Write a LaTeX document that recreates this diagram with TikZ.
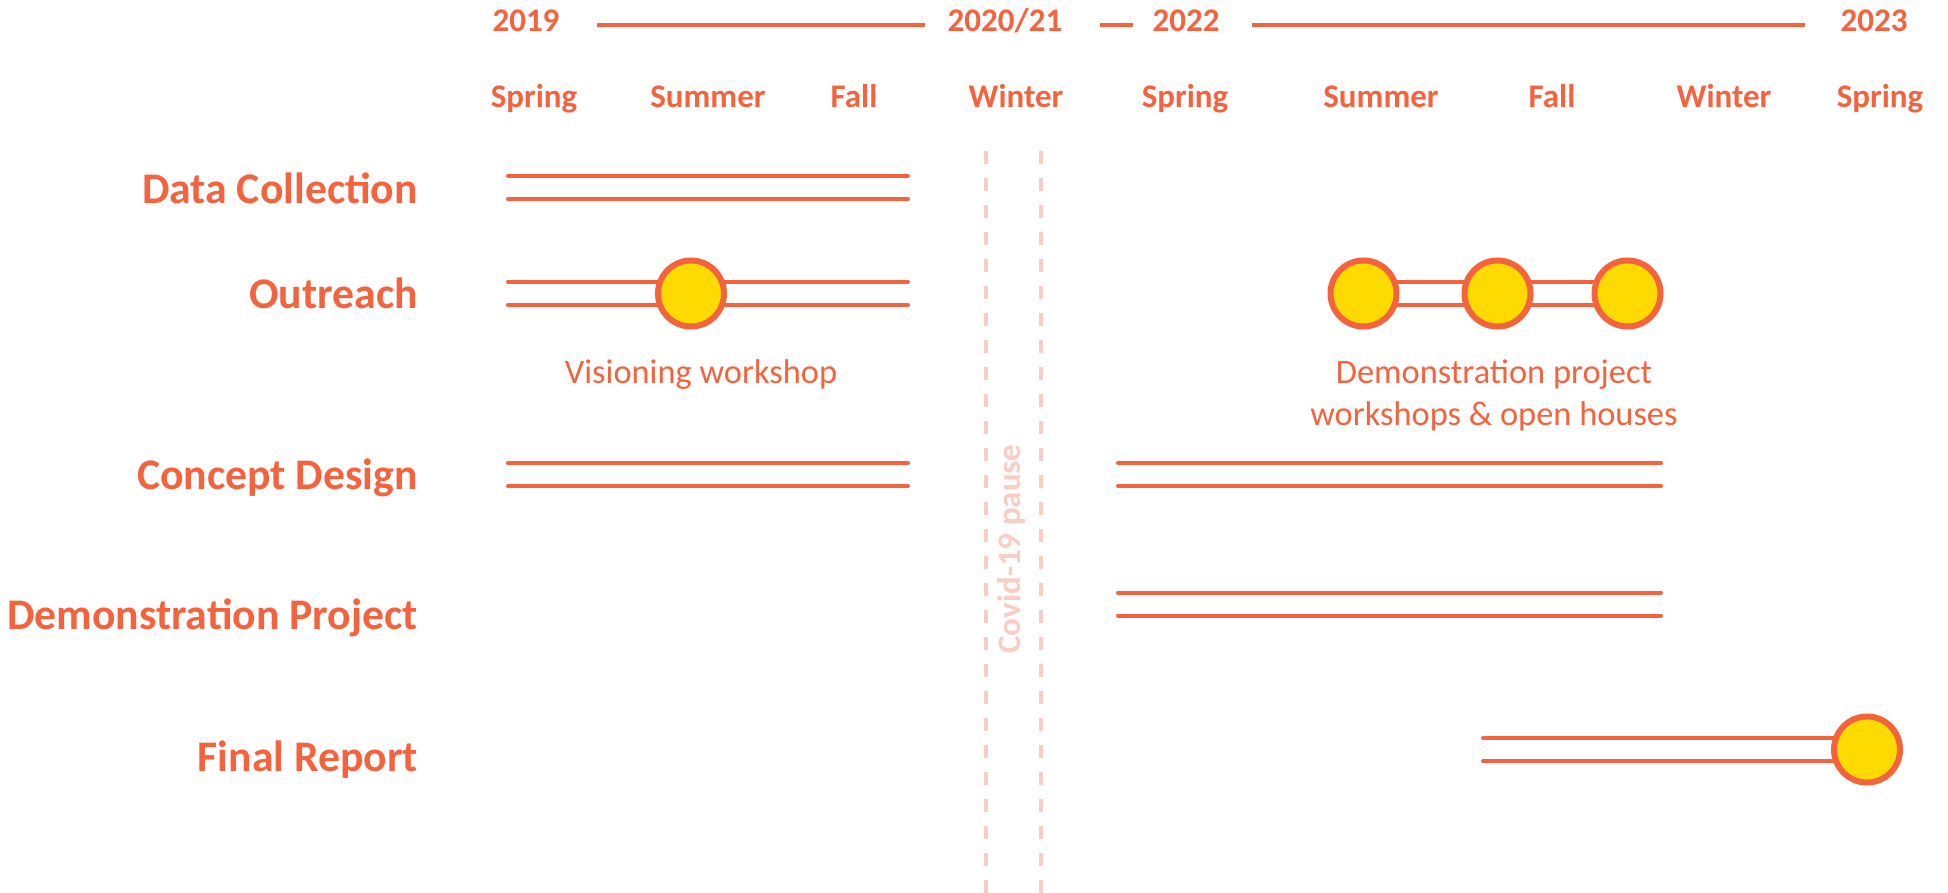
\documentclass[tikz,border=0pt]{standalone}
\usepackage{fontspec}
\setmainfont{Carlito}
\usetikzlibrary{backgrounds}
\definecolor{tlorange}{HTML}{F4633E}
\definecolor{tlyellow}{HTML}{FDDA00}
\definecolor{tlpink}{HTML}{F9CCC4}
\newcommand\twobar[2]{%
  \draw[bar] ([yshift=11.5pt]#1) -- ([yshift=11.5pt]#2);
  \draw[bar] ([yshift=-11.5pt]#1) -- ([yshift=-11.5pt]#2);}
\begin{document}
\begin{tikzpicture}[x=1pt,y=-1pt,
  rowlabel/.style={anchor=base east, font=\bfseries\fontsize{43.7}{50}\selectfont, text=tlorange, inner sep=0pt},
  hdr/.style={anchor=base, font=\bfseries\fontsize{33}{40}\selectfont, text=tlorange, inner sep=0pt},
  note/.style={anchor=base, font=\fontsize{34.4}{42}\selectfont, text=tlorange, align=center, inner sep=0pt},
  bar/.style={draw=tlorange, line width=4pt, line cap=round},
  yearline/.style={draw=tlorange, line width=3.5pt},
  milestone/.style={circle, draw=tlorange, fill=tlyellow, line width=6pt, minimum size=66pt, inner sep=0pt},
  pause/.style={draw=tlpink, line width=3.3pt, dash pattern=on 13pt off 14pt},
  pauselabel/.style={rotate=90, font=\bfseries\fontsize{33}{40}\selectfont, text=tlpink, inner sep=0pt}]
\path[use as bounding box] (0,0) rectangle (1948,893);

% years
\node[hdr] (y2019) at (526,31.7) {2019};
\node[hdr] (y2020) at (1005,31.7) {2020/21};
\node[hdr] (y2022) at (1186,31.7) {2022};
\node[hdr] (y2023) at (1874,31.7) {2023};
\coordinate (ya1) at (597,25); \coordinate (yb1) at (925,25);
\coordinate (ya2) at (1100,25); \coordinate (yb2) at (1133,25);
\coordinate (ya3) at (1252,25); \coordinate (yb3) at (1805,25);
\draw[yearline] (ya1) -- (yb1);
\draw[yearline] (ya2) -- (yb2);
\draw[yearline] (ya3) -- (yb3);

% seasons
\node[hdr] (s1) at (534,108) {Spring};
\node[hdr] (s2) at (708,108) {Summer};
\node[hdr] (s3) at (854,108) {Fall};
\node[hdr] (s4) at (1016,108) {Winter};
\node[hdr] (s5) at (1185,108) {Spring};
\node[hdr] (s6) at (1381,108) {Summer};
\node[hdr] (s7) at (1552,108) {Fall};
\node[hdr] (s8) at (1724,108) {Winter};
\node[hdr] (s9) at (1880,108) {Spring};

% covid pause
\coordinate (pa1) at (986,151); \coordinate (pb1) at (986,893);
\coordinate (pa2) at (1041,151); \coordinate (pb2) at (1041,893);
\draw[pause] (pa1) -- (pb1);
\draw[pause] (pa2) -- (pb2);
\node[pauselabel] (covid) at (1012,549) {Covid-19 pause};

% row labels
\node[rowlabel] (rDC) at (418,204) {Data Collection};
\node[rowlabel] (rOR) at (418,308) {Outreach};
\node[rowlabel] (rCD) at (418,489) {Concept Design};
\node[rowlabel] (rDP) at (418,629) {Demonstration Project};
\node[rowlabel] (rFR) at (418,771) {Final Report};

% bar end points
\coordinate (dcA) at (508,187.5); \coordinate (dcB) at (908,187.5);
\coordinate (orA) at (508,293.5); \coordinate (orB) at (908,293.5);
\coordinate (cdA) at (508,474.5); \coordinate (cdB) at (908,474.5);
\coordinate (cdC) at (1118,474.5); \coordinate (cdD) at (1661,474.5);
\coordinate (dpA) at (1118,604); \coordinate (dpB) at (1661,604);
\coordinate (frA) at (1483,749.5);

% milestones
\node[milestone] (m1) at (691,293.5) {};
\node[milestone] (m2) at (1363.5,293.5) {};
\node[milestone] (m3) at (1497.5,293.5) {};
\node[milestone] (m4) at (1627.5,293.5) {};
\node[milestone] (m5) at (1867,749.5) {};

\begin{scope}[on background layer]
\twobar{dcA}{dcB}
\twobar{orA}{orB}
\twobar{cdA}{cdB}
\twobar{cdC}{cdD}
\twobar{dpA}{dpB}
\twobar{m2.center}{m4.center}
\twobar{frA}{m5.center}
\end{scope}

% notes
\node[note] (n1) at (701,383) {Visioning workshop};
\node[note] (n2) at (1494,425) {Demonstration project\\workshops \& open houses};
\end{tikzpicture}
\end{document}
